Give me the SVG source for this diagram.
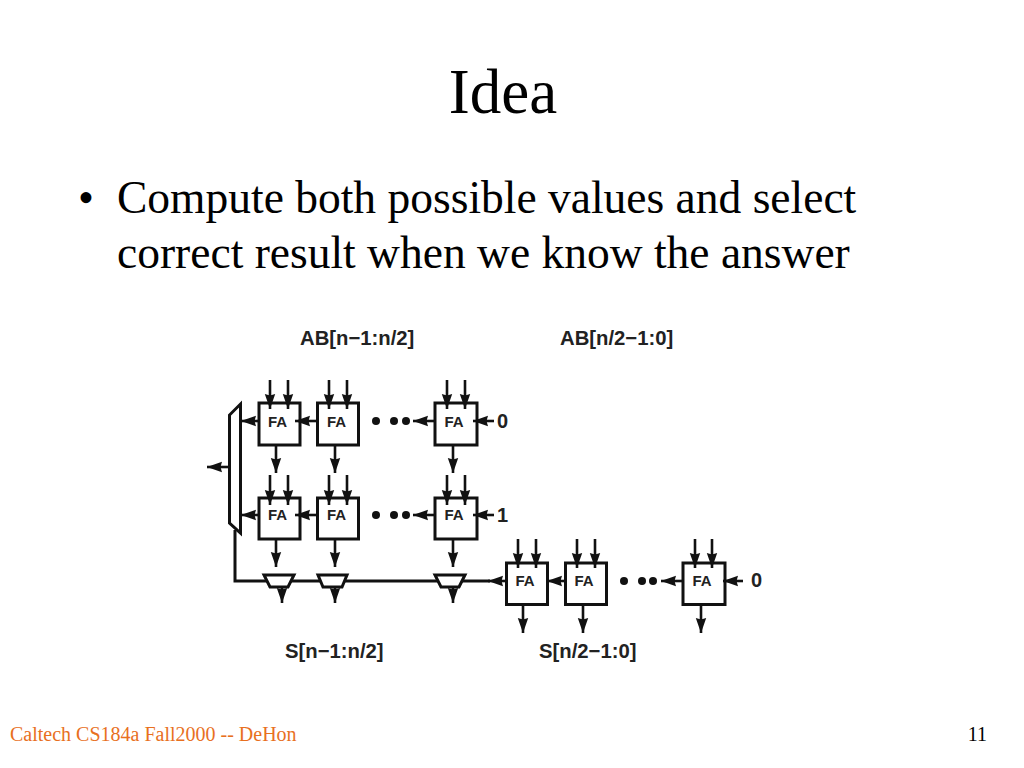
<svg xmlns="http://www.w3.org/2000/svg" width="1024" height="768" viewBox="0 0 1024 768">
<style>
.s{font-family:"Liberation Serif","Times New Roman",serif;fill:#000}
.h{font-family:"Liberation Sans",Arial,sans-serif;font-weight:bold;fill:#222}
.f{font-size:15px;text-anchor:middle}
.b{fill:#fff;stroke:#111;stroke-width:3}
.l{fill:none;stroke:#111;stroke-width:3}
.w{fill:none;stroke:#111;stroke-width:2.6;marker-end:url(#a)}
.d{fill:#111}
</style>
<defs>
<marker id="a" markerUnits="userSpaceOnUse" markerWidth="16" markerHeight="12" refX="15" refY="5.500" orient="auto" viewBox="0 0 16 11"><path d="M0 0.300L15 5.500L0 10.700L1.500 5.500Z" fill="#111"/></marker>
</defs>
<rect width="1024" height="768" fill="#fff"/>
<text class="s" x="503" y="113" font-size="63" text-anchor="middle">Idea</text>
<text class="s" x="78" y="213" font-size="45.500">•</text>
<text class="s" x="117" y="213" font-size="45.500">Compute both possible values and select</text>
<text class="s" x="117" y="268" font-size="45.500">correct result when we know the answer</text>
<text x="10" y="741" font-size="20" style="font-family:'Liberation Serif',serif;fill:#e8701e">Caltech CS184a Fall2000 -- DeHon</text>
<text class="s" x="987" y="741" font-size="20" text-anchor="end">11</text>
<g id="labels">
<text class="h" x="300" y="345" font-size="20.300">AB[n−1:n/2]</text>
<text class="h" x="560" y="345" font-size="20.300">AB[n/2−1:0]</text>
<text class="h" x="285" y="658" font-size="20.300">S[n−1:n/2]</text>
<text class="h" x="539" y="658" font-size="20.300">S[n/2−1:0]</text>
<text class="h" x="497" y="428" font-size="20">0</text>
<text class="h" x="497" y="522" font-size="20">1</text>
<text class="h" x="751" y="587" font-size="20">0</text>
</g>
<g id="mux-main"><path class="b" d="M240.500 404V533L229.500 523V415Z"/></g>
<g id="mux-1"><path class="b" d="M264 575H294L288 587H270Z"/></g>
<g id="mux-2"><path class="b" d="M318 575H347L342 587H323Z"/></g>
<g id="mux-3"><path class="b" d="M435 575H465L459 587H441Z"/></g>
<g id="dots">
<circle class="d" cx="376" cy="421" r="4"/><circle class="d" cx="394" cy="421" r="4"/><circle class="d" cx="406" cy="421" r="4"/>
<circle class="d" cx="376" cy="515" r="4"/><circle class="d" cx="394" cy="515" r="4"/><circle class="d" cx="406" cy="515" r="4"/>
<circle class="d" cx="624" cy="581" r="4"/><circle class="d" cx="642" cy="581" r="4"/><circle class="d" cx="653" cy="581" r="4"/>
</g>
<g id="fa-1-1"><rect class="b" x="259" y="403" width="41" height="42"/><text class="h f" x="277.500" y="427">FA</text></g>
<g id="fa-1-2"><rect class="b" x="317.500" y="403" width="41" height="42"/><text class="h f" x="336.500" y="427">FA</text></g>
<g id="fa-1-3"><rect class="b" x="435" y="403" width="42" height="42"/><text class="h f" x="454" y="427">FA</text></g>
<g id="fa-2-1"><rect class="b" x="259" y="498" width="41" height="41"/><text class="h f" x="277.500" y="520">FA</text></g>
<g id="fa-2-2"><rect class="b" x="317.500" y="498" width="41" height="41"/><text class="h f" x="336.500" y="520">FA</text></g>
<g id="fa-2-3"><rect class="b" x="435" y="498" width="42" height="41"/><text class="h f" x="454" y="520">FA</text></g>
<g id="fa-3-1"><rect class="b" x="506.500" y="563" width="41" height="41.500"/><text class="h f" x="525" y="586">FA</text></g>
<g id="fa-3-2"><rect class="b" x="565.500" y="563" width="41" height="41.500"/><text class="h f" x="584" y="586">FA</text></g>
<g id="fa-3-3"><rect class="b" x="683" y="563" width="42" height="41.500"/><text class="h f" x="702" y="586">FA</text></g>
<g id="connectors">
<path class="w" d="M270 380V409"/><path class="w" d="M288 380V409"/>
<path class="w" d="M329 380V409"/><path class="w" d="M347 380V409"/>
<path class="w" d="M447 380V409"/><path class="w" d="M465 380V409"/>
<path class="w" d="M270 475V505"/><path class="w" d="M288 475V505"/>
<path class="w" d="M329 475V505"/><path class="w" d="M347 475V505"/>
<path class="w" d="M447 475V505"/><path class="w" d="M465 475V505"/>
<path class="w" d="M276 445V473"/><path class="w" d="M335 445V473"/><path class="w" d="M453 445V473"/>
<path class="w" d="M276 540V567"/><path class="w" d="M335 540V567"/><path class="w" d="M453 540V567"/>
<path class="w" d="M259 421H241"/><path class="w" d="M317 421H295"/><path class="w" d="M434 421H413"/><path class="w" d="M494 421H473"/>
<path class="w" d="M259 515H241"/><path class="w" d="M317 515H295"/><path class="w" d="M434 515H413"/><path class="w" d="M494 515H473"/>
<path class="w" d="M229 467H207"/>
<path class="l" d="M235 530V581H267"/><path class="l" d="M291 581H321"/><path class="l" d="M345 581H438"/><path class="l" d="M462 581H490"/>
<path class="w" d="M506 581H488"/>
<path class="w" d="M282 587V603"/><path class="w" d="M335 587V603"/><path class="w" d="M453 587V603"/>
<path class="w" d="M565 581H547"/><path class="w" d="M683 581H661"/><path class="w" d="M743 581H723"/>
<path class="w" d="M518 539V568"/><path class="w" d="M536 539V568"/>
<path class="w" d="M577 539V568"/><path class="w" d="M595 539V568"/>
<path class="w" d="M695 539V568"/><path class="w" d="M712 539V568"/>
<path class="w" d="M523 605V633"/><path class="w" d="M583 605V633"/><path class="w" d="M701 605V633"/>
</g>
</svg>
